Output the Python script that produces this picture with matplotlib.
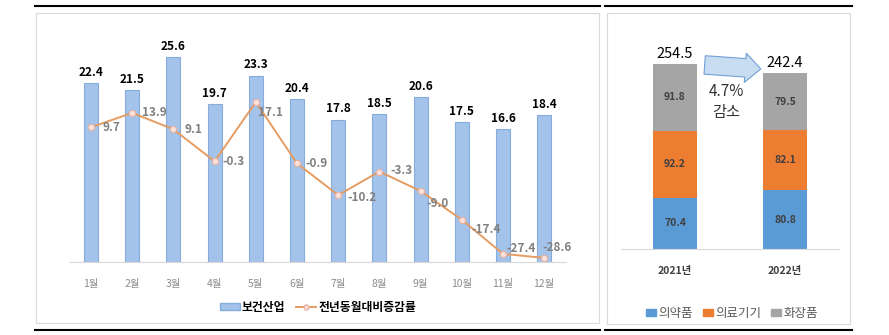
import matplotlib.pyplot as plt
import numpy as np
from matplotlib.patches import Rectangle, FancyArrowPatch, Patch
from matplotlib.lines import Line2D

plt.rcParams['font.family'] = ['Noto Sans CJK KR', 'DejaVu Sans']

# 월별 보건산업 수출액과 전년동월대비 증감률
months = ['1월', '2월', '3월', '4월', '5월', '6월', '7월', '8월', '9월', '10월', '11월', '12월']
exports = [22.4, 21.5, 25.6, 19.7, 23.3, 20.4, 17.8, 18.5, 20.6, 17.5, 16.6, 18.4]
growth = [9.7, 13.9, 9.1, -0.3, 17.1, -0.9, -10.2, -3.3, -9.0, -17.4, -27.4, -28.6]

# 연도별 분야 구성
years = ['2021년', '2022년']
pharma = [70.4, 80.8]
devices = [92.2, 82.1]
cosmetics = [91.8, 79.5]
totals = [254.5, 242.4]

W, H = 889, 335
fig = plt.figure(figsize=(W / 100, H / 100), dpi=100)


def fx(px):
    return px / W


def fy(py):
    return 1 - py / H


# 패널 테두리와 위아래 굵은 선
fig.patches.append(Rectangle((fx(36), fy(323)), fx(599) - fx(36), fy(13) - fy(323),
                             transform=fig.transFigure, fill=False, ec='#d9d9d9', lw=0.8))
fig.patches.append(Rectangle((fx(607), fy(324)), fx(850) - fx(607), fy(13) - fy(324),
                             transform=fig.transFigure, fill=False, ec='#d9d9d9', lw=0.8))
for x0, x1 in [(35, 600), (605, 852)]:
    for yy in (6, 330):
        fig.lines.append(Line2D([fx(x0), fx(x1)], [fy(yy), fy(yy)],
                                transform=fig.transFigure, color='black', lw=1.5))

# 왼쪽: 월별 막대 + 증감률 선
ax = fig.add_axes([fx(70), fy(262), fx(566) - fx(70), fy(30) - fy(262)])
x = np.arange(len(months))
bars = ax.bar(x, exports, width=0.34, color='#a3c3ea', edgecolor='#86acdc', lw=0.8, zorder=2)
for xi, v in zip(x, exports):
    ax.annotate(f'{v:.1f}', (xi, v), xytext=(0, 3), textcoords='offset points',
                ha='center', va='bottom', fontsize=8.5, fontweight='bold', color='black')
ax.set_xlim(-0.51, 11.53)
ax.set_ylim(0, 29)
ax.set_xticks(x)
ax.set_xticklabels(months, fontsize=7.5, color='#8c8c8c')
ax.tick_params(axis='x', length=0, pad=12)
ax.set_yticks([])
for s in ['top', 'right', 'left']:
    ax.spines[s].set_visible(False)
ax.spines['bottom'].set_color('#d9d9d9')

ax2 = ax.twinx()
ax2.plot(x, growth, color='#e59c62', lw=1.4, marker='o', ms=4.5,
         mfc='#fbe3dc', mec='#eab1a2', mew=0.8, zorder=3)
ax2.set_ylim(-29.8, 38.2)
ax2.set_yticks([])
for s in ax2.spines.values():
    s.set_visible(False)
offsets = [(11, 0), (10, 0), (11, 0), (8, 0), (2, 11), (8, 0),
           (9, 2), (11, -1), (6, 12), (10, 10), (3, -5), (-2, -10)]
for xi, v, (dx, dy) in zip(x, growth, offsets):
    ax2.annotate(f'{v:.1f}', (xi, v), xytext=(dx * 0.72, -dy * 0.72), textcoords='offset points',
                 ha='left', va='center', fontsize=8.5, fontweight='bold', color='#808080')

h1 = Patch(facecolor='#a3c3ea', edgecolor='#86acdc')
h2 = Line2D([], [], color='#e59c62', lw=1.4, marker='o', ms=3.5, mfc='#fbe3dc', mec='#eab1a2')
ax.legend([h1, h2], ['보건산업', '전년동월대비증감률'], ncol=2, frameon=False,
          loc='center', bbox_to_anchor=(fx(318), fy(307)), bbox_transform=fig.transFigure,
          prop={'size': 8.5, 'weight': 'bold'}, handlelength=1.7, handleheight=0.5,
          handletextpad=0.2, columnspacing=0.9)

# 오른쪽: 연도별 누적 막대
bx = fig.add_axes([fx(621), fy(249), fx(839) - fx(621), fy(30) - fy(249)])
xy = np.arange(len(years))
bottom = np.zeros(len(years))
colors = ['#5b9bd5', '#ed7d31', '#a5a5a5']
names = ['의약품', '의료기기', '화장품']
for vals, c in zip([pharma, devices, cosmetics], colors):
    bx.bar(xy, vals, bottom=bottom, width=0.4, color=c)
    for xi, b, v in zip(xy, bottom, vals):
        bx.text(xi, b + v / 2, f'{v:.1f}', ha='center', va='center',
                fontsize=7.5, fontweight='bold', color='#404040')
    bottom += np.array(vals)
for xi, t in zip(xy, totals):
    bx.annotate(f'{t:.1f}', (xi, t), xytext=(0, 2), textcoords='offset points',
                ha='center', va='bottom', fontsize=10.5, color='black')
bx.set_xlim(-0.49, 1.49)
bx.set_ylim(0, 301)
bx.set_xticks(xy)
bx.set_xticklabels(years, fontsize=7.5, fontweight='bold', color='#404040')
bx.tick_params(axis='x', length=0, pad=12)
bx.set_yticks([])
for s in ['top', 'right', 'left']:
    bx.spines[s].set_visible(False)
bx.spines['bottom'].set_color('#d9d9d9')

# 감소 표시 화살표
arrow = FancyArrowPatch((0.27, 253), (0.78, 247.5),
                        arrowstyle='simple,head_width=1.5,head_length=0.8,tail_width=0.95',
                        mutation_scale=14, shrinkA=0, shrinkB=0,
                        fc='#c9ddf2', ec='#6f9fd6', lw=0.8)
bx.add_patch(arrow)
bx.text(0.47, 217, '4.7%', ha='center', va='center', fontsize=11, color='#333333')
bx.text(0.47, 188, '감소', ha='center', va='center', fontsize=11, color='#333333')

handles = [Patch(color=c) for c in colors]
bx.legend(handles, names, ncol=3, frameon=False, loc='center',
          bbox_to_anchor=(fx(732), fy(313)), bbox_transform=fig.transFigure,
          prop={'size': 9}, labelcolor='#595959', handlelength=0.8, handleheight=0.5,
          handletextpad=0.2, columnspacing=0.8)

fig.savefig('out.png', dpi=100)
